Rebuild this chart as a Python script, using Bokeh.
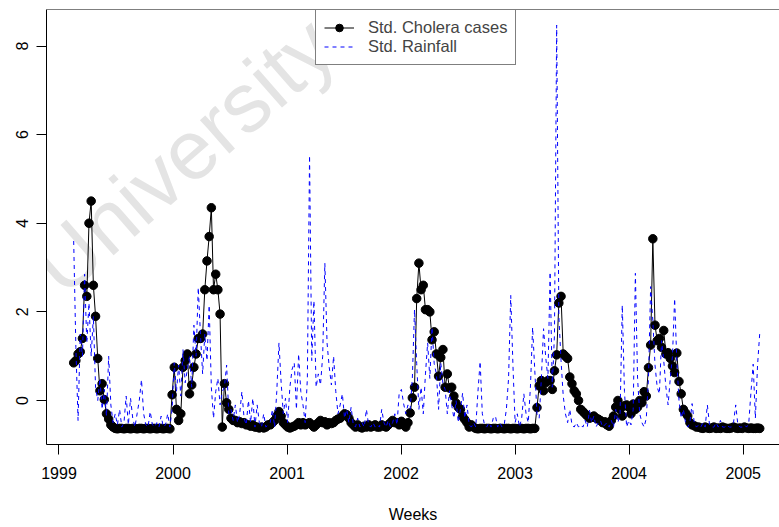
import pandas as pd
from bokeh.plotting import figure
from bokeh.models import (Range1d, FixedTicker, Legend, LegendItem, Span, Label,
                          ColumnDataSource)
from bokeh.embed import file_html
from bokeh.resources import INLINE

# ---------------- data ----------------
first_week = "1999-02-17"

cholera = [
    0.85, 0.9, 1.05, 1.1, 1.4, 2.6, 2.35, 4.0, 4.5, 2.6,
    1.9, 0.95, 0.22, 0.38, 0.02, -0.3, -0.42, -0.55, -0.6, -0.63,
    -0.64, -0.63, -0.63, -0.64, -0.63, -0.63, -0.64, -0.63, -0.63, -0.64,
    -0.63, -0.63, -0.64, -0.63, -0.63, -0.64, -0.63, -0.63, -0.64, -0.63,
    -0.63, -0.64, -0.63, -0.63, -0.64, 0.13, 0.75, -0.2, -0.45, -0.3,
    0.75, 0.9, 1.05, 0.15, 0.35, 0.75, 1.05, 1.4, 1.4, 1.5,
    2.5, 3.15, 3.7, 4.35, 2.5, 2.85, 2.5, 1.95, -0.6, 0.38,
    -0.05, -0.2, -0.4, -0.45, -0.45, -0.5, -0.48, -0.52, -0.5, -0.55,
    -0.55, -0.58, -0.55, -0.6, -0.6, -0.62, -0.6, -0.62, -0.6, -0.55,
    -0.55, -0.5, -0.45, -0.35, -0.25, -0.35, -0.5, -0.55, -0.6, -0.62,
    -0.6, -0.58, -0.55, -0.5, -0.55, -0.5, -0.55, -0.52, -0.5, -0.55,
    -0.6, -0.55, -0.5, -0.45, -0.5, -0.48, -0.55, -0.5, -0.52, -0.5,
    -0.45, -0.42, -0.4, -0.35, -0.3, -0.32, -0.4, -0.5, -0.55, -0.6,
    -0.55, -0.6, -0.62, -0.58, -0.6, -0.55, -0.6, -0.58, -0.55, -0.6,
    -0.6, -0.55, -0.58, -0.6, -0.55, -0.5, -0.45, -0.5, -0.5, -0.55,
    -0.47, -0.55, -0.6, -0.5, -0.28, 0.06, 0.3, 2.3, 3.1, 2.5,
    2.6, 2.05, 2.05, 2.0, 1.37, 1.55, 1.05, 0.55, 0.97, 1.15,
    0.3, 0.6, 0.28, 0.3, 0.1, -0.06, -0.15, -0.2, -0.36, -0.43,
    -0.5, -0.6, -0.55, -0.6, -0.63, -0.64, -0.63, -0.63, -0.64, -0.63,
    -0.63, -0.64, -0.63, -0.63, -0.64, -0.63, -0.63, -0.64, -0.63, -0.63,
    -0.64, -0.63, -0.63, -0.64, -0.63, -0.63, -0.64, -0.63, -0.63, -0.64,
    -0.63, -0.63, -0.16, 0.33, 0.45, 0.22, 0.4, 0.45, 0.45, 0.25,
    0.67, 1.03, 2.2, 2.35, 1.05, 1.0, 0.95, 0.53, 0.38, 0.22,
    0.15, 0.0, -0.2, -0.25, -0.3, -0.35, -0.4, -0.38, -0.35, -0.4,
    -0.42, -0.45, -0.5, -0.48, -0.55, -0.58, -0.45, -0.35, -0.15, 0.0,
    -0.2, -0.35, -0.12, -0.1, -0.15, -0.3, -0.08, -0.2, -0.15, 0.0,
    -0.05, 0.2, 0.1, 0.74, 1.25, 3.65, 1.7, 1.35, 1.4, 1.2,
    1.58, 1.05, 1.08, 0.95, 0.78, 0.63, 1.07, 0.43, 0.15, -0.2,
    -0.28, -0.35, -0.5, -0.55, -0.57, -0.6, -0.6, -0.62, -0.63, -0.6,
    -0.62, -0.63, -0.62, -0.6, -0.63, -0.62, -0.63, -0.6, -0.62, -0.63,
    -0.63, -0.62, -0.6, -0.62, -0.63, -0.62, -0.63, -0.6, -0.62, -0.63,
    -0.62, -0.63, -0.63, -0.62, -0.63,
]

rainfall = [
    3.6, 1.2, -0.45, 1.5, 1.0, 2.85, 1.3, 2.2, 1.0, 1.9,
    0.3, 0.0, 0.5, -0.2, 0.25, -0.35, 1.0, -0.1, -0.5, -0.3,
    -0.55, -0.2, -0.6, -0.5, 0.1, -0.55, 0.05, -0.4, -0.6, -0.3,
    0.0, 0.47, -0.3, -0.55, -0.6, -0.25, -0.55, -0.6, -0.5, -0.6,
    -0.35, -0.6, -0.55, -0.3, -0.6, -0.2, 0.85, 0.2, 0.8, 0.1,
    1.15, 0.4, 0.7, 1.0, 0.3, 1.7, 1.0, 2.55, 1.5, 0.6,
    1.5, 0.9, 2.15, 0.3, -0.4, 0.2, 0.5, -0.1, 0.2, 0.3,
    0.8, -0.3, -0.2, -0.45, -0.1, -0.5, -0.3, 0.2, -0.4, -0.55,
    0.0, -0.5, 0.05, -0.6, -0.1, -0.5, -0.6, -0.3, -0.6, -0.55,
    -0.5, -0.2, -0.6, 0.2, 1.3, 0.4, -0.3, 0.05, -0.5, 0.3,
    0.7, 0.85, -0.2, 1.05, 0.2, -0.1, -0.5, 0.5, 5.53, 0.9,
    2.25, 0.3, 0.6, 0.35, 1.0, 3.1, 1.3, 0.75, 0.35, 1.0,
    0.2, -0.3, -0.1, 0.15, -0.4, -0.2, -0.5, -0.15, -0.55, -0.6,
    -0.4, -0.6, -0.5, -0.6, -0.2, -0.55, -0.6, -0.5, -0.6, -0.55,
    -0.6, -0.2, -0.5, -0.6, -0.45, -0.6, -0.5, -0.3, -0.55, 0.18,
    0.25, -0.07, -0.3, -0.1, -0.2, 0.5, 2.05, 0.83, -0.2, 0.3,
    -0.3, 0.6, 1.3, 0.5, 1.65, 0.83, 0.6, -0.2, 0.85, 0.38,
    0.25, -0.3, 0.22, -0.1, -0.4, 0.0, -0.5, -0.2, 0.17, -0.4,
    -0.1, -0.55, -0.6, -0.5, -0.6, 0.2, 0.88, -0.3, -0.55, -0.6,
    -0.5, -0.6, -0.4, -0.35, -0.6, -0.5, -0.6, -0.55, -0.2, 0.5,
    2.37, 0.8, -0.5, -0.3, -0.6, -0.4, 0.15, -0.3, -0.5, 0.3,
    1.65, 0.67, -0.3, -0.4, 0.5, 1.62, 0.97, 0.5, 2.9, 0.3,
    1.5, 8.47, 1.9, 0.9, 0.1, -0.3, -0.5, -0.2, -0.55, -0.6,
    -0.5, -0.6, -0.55, -0.6, -0.45, -0.6, -0.22, -0.5, -0.35, -0.6,
    -0.5, -0.45, -0.6, -0.55, -0.5, -0.6, -0.45, -0.6, -0.2, -0.5,
    -0.3, 2.15, 0.2, -0.6, -0.45, -0.55, -0.2, 2.87, 0.5, -0.3,
    -0.5, -0.6, -0.4, 0.5, 2.57, 1.8, 0.8, 0.3, 0.15, 1.35,
    0.9, 0.3, -0.1, 0.5, 1.0, 2.3, 0.9, 0.0, -0.4, -0.2,
    -0.5, -0.6, -0.5, -0.07, -0.5, -0.6, -0.55, -0.6, -0.5, -0.6,
    -0.1, -0.55, -0.6, -0.6, -0.5, -0.6, -0.45, -0.6, -0.6, -0.55,
    -0.6, -0.6, -0.5, -0.1, -0.55, -0.6, -0.6, -0.55, -0.6, -0.5,
    0.2, 0.82, -0.4, 0.8, 1.52,
]

x_ticks = [1999, 2000, 2001, 2002, 2003, 2004, 2005]
x_tick_labels = ["1999", "2000", "2001", "2002", "2003", "2004", "2005"]
y_ticks = [0, 2, 4, 6, 8]
y_tick_labels = ["0", "2", "4", "6", "8"]

# weekly time axis as decimal years
dates = pd.date_range(first_week, periods=len(cholera), freq="7D")
days_in_year = 365 + dates.is_leap_year.astype(int)
t = list(dates.year + (dates.dayofyear - 1) / days_in_year)

src = ColumnDataSource(dict(t=t, cholera=cholera, rainfall=rainfall))

FONT = "Liberation Sans"
Y_TOP = 8.824

p = figure(width=779, height=527, output_backend="svg", toolbar_location=None,
           x_range=Range1d(1998.8904, 2005.3185), y_range=Range1d(-0.993, Y_TOP),
           min_border_left=46, min_border_right=0, min_border_top=9,
           min_border_bottom=83, x_axis_label="Weeks")
p.grid.visible = False
p.outline_line_color = None
p.background_fill_color = "white"
p.border_fill_color = "white"

# axes
for ax in (p.xaxis[0], p.yaxis[0]):
    ax.axis_line_color = "black"
    ax.axis_line_width = 1
    ax.major_tick_line_color = "black"
    ax.major_tick_out = 10
    ax.major_tick_in = 0
    ax.minor_tick_out = 0
    ax.minor_tick_in = 0
    ax.major_label_text_font = FONT
    ax.major_label_text_font_size = "16px"
    ax.major_label_text_color = "black"

p.xaxis.ticker = FixedTicker(ticks=x_ticks)
p.xaxis.major_label_overrides = {k: v for k, v in zip(x_ticks, x_tick_labels)}
p.xaxis.major_label_standoff = 12
p.xaxis.axis_label_text_font = FONT
p.xaxis.axis_label_text_font_size = "16px"
p.xaxis.axis_label_text_font_style = "normal"
p.xaxis.axis_label_text_color = "black"
p.xaxis.axis_label_standoff = 24

p.yaxis.ticker = FixedTicker(ticks=y_ticks)
p.yaxis.major_label_overrides = {k: v for k, v in zip(y_ticks, y_tick_labels)}
p.yaxis.major_label_orientation = "vertical"
p.yaxis.major_label_standoff = 8

# top border of the box
p.add_layout(Span(location=Y_TOP, dimension="width", line_color="black", line_width=1))

# watermark
p.add_layout(Label(x=29, y=132, x_units="screen", y_units="screen", text="University of",
                   angle=0.72, text_font=FONT, text_font_size="84px",
                   text_color="#e4e4e4", level="underlay"))

# series
l1 = p.line("t", "cholera", source=src, line_color="black", line_width=1)
c1 = p.scatter("t", "cholera", source=src, size=8.5, fill_color="black", line_color="black")
r1 = p.line("t", "rainfall", source=src, line_color="blue", line_width=1, line_dash="4 4")

legend = Legend(items=[LegendItem(label="Std. Cholera cases", renderers=[l1, c1]),
                       LegendItem(label="Std. Rainfall", renderers=[r1])],
                location=(269, 379), padding=8, spacing=0, label_height=19,
                glyph_height=19, glyph_width=30, label_standoff=14,
                label_text_font=FONT, label_text_font_size="16.5px",
                border_line_color="black", border_line_width=1,
                background_fill_color="white", background_fill_alpha=1.0)
p.add_layout(legend, "center")

open("out.html", "w").write(file_html(p, INLINE))
